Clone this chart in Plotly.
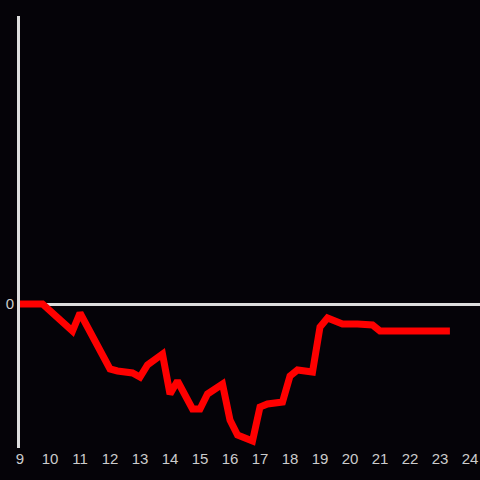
import plotly.graph_objects as go

hours = [9.0, 9.75, 10.75, 11.0, 12.0, 12.25, 12.75, 13.0, 13.25, 13.75, 14.0, 14.25,
         14.75, 15.0, 15.25, 15.75, 16.0, 16.25, 16.75, 17.0, 17.25, 17.75, 18.0, 18.25,
         18.75, 19.0, 19.25, 19.75, 20.25, 20.75, 21.0, 23.33]
values = [0, 0, -27, -9, -65, -67, -69, -73, -61, -50, -90, -77,
          -105, -105, -90, -80, -116, -131, -137, -103, -100, -98, -72, -66,
          -68, -23, -14, -20, -20, -21, -27, -27]

x_ticks = list(range(9, 25))

fig = go.Figure()
fig.add_trace(go.Scatter(x=hours, y=values, mode="lines",
                         line=dict(color="#ff0000", width=7), hoverinfo="skip"))

fig.update_layout(
    width=480, height=480,
    margin=dict(l=20, r=0, t=16, b=32),
    paper_bgcolor="#050308", plot_bgcolor="#050308",
    showlegend=False,
    font=dict(family="Liberation Sans, Arial, sans-serif", size=15, color="#cccccc"),
    xaxis=dict(range=[9, 9 + 460 / 30], tickvals=x_ticks, ticktext=[str(t) for t in x_ticks],
               showgrid=False, zeroline=False, showline=False, ticks=""),
    yaxis=dict(range=[-144, 288], tickvals=[0], ticktext=["0"], showgrid=False,
               zeroline=True, zerolinecolor="#dddddd", zerolinewidth=3,
               showline=True, linecolor="#dddddd", linewidth=3, ticks=""),
)

fig.write_html("out.html",
               config={"displayModeBar": False, "staticPlot": True},
               post_script="document.body.style.margin='0';document.body.style.background='#050308';")
